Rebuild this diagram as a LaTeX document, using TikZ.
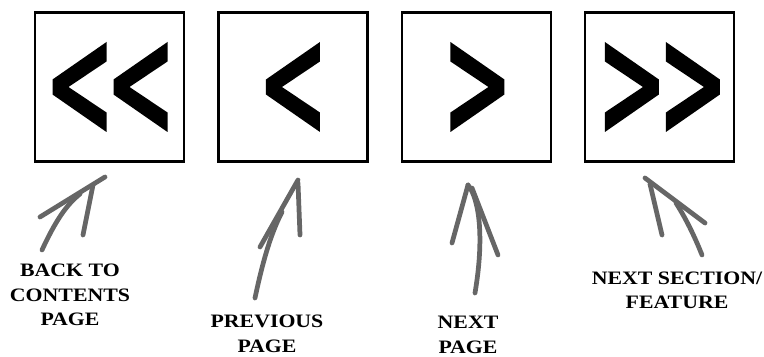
\documentclass[tikz,border=0pt]{standalone}
\usepackage{fontspec}
\usepackage{tikz}
\usetikzlibrary{positioning, calc}

\newfontfamily\capfont[FakeStretch=1.15]{Liberation Serif}

% chevrons drawn inside the buttons
\tikzset{
  lchev/.pic={\fill (27,-45) -- (-27,-7.5) -- (-27,7.5) -- (27,45) -- (27,25.5) -- (-11,0) -- (27,-25.5) -- cycle;},
  rchev/.pic={\fill (-27,-45) -- (27,-7.5) -- (27,7.5) -- (-27,45) -- (-27,25.5) -- (11,0) -- (-27,-25.5) -- cycle;}
}

\begin{document}
\begin{tikzpicture}[x=0.02cm, y=-0.02cm, node distance=3.67cm, on grid,
    navbox/.style={draw, line width=1.2pt, minimum size=2.98cm, inner sep=0pt},
    navtext/.style={font=\capfont\fontsize{10.8}{13.9}\selectfont\bfseries, align=center, inner sep=0pt},
    pencil/.style={draw=black!60, line width=2.7pt, line cap=round, line join=round}]
    \useasboundingbox (0,0) rectangle (764,357);

    % Buttons
    \node[navbox] (back) at (109.5,87) {};
    \node[navbox, right=of back] (prev) {};
    \node[navbox, right=of prev] (next) {};
    \node[navbox, right=of next] (section) {};

    \pic at ($(back)+(-30,0)$) {lchev};
    \pic at ($(back)+(31,0)$) {lchev};
    \pic at (prev) {lchev};
    \pic at ($(next)+(1,0)$) {rchev};
    \pic at ($(section)+(-28,0)$) {rchev};
    \pic at ($(section)+(33,0)$) {rchev};

    % Captions
    \node[navtext] (backtxt) at (70,295) {BACK TO\\CONTENTS\\PAGE};
    \node[navtext] (prevtxt) at (267,334) {PREVIOUS\\PAGE};
    \node[navtext] (nexttxt) at (468,335) {NEXT\\PAGE};
    \node[navtext] (sectxt) at (677,290.5) {NEXT SECTION/\\FEATURE};

    % Hand drawn arrows
    \coordinate (tip1) at (105,177);
    \coordinate (tip2) at (298,180);
    \coordinate (tip3) at (468,185);
    \coordinate (tip4) at (645,178);

    \draw[pencil] (40,217) -- (tip1);
    \draw[pencil] (42,250) .. controls (55,222) and (66,205) .. (80,194);
    \draw[pencil] (93,185) -- (83,235);

    \draw[pencil] (260,247) -- (tip2);
    \draw[pencil] (255,298) .. controls (262,265) and (270,235) .. (282,212);
    \draw[pencil] (298,183) -- (300,235);

    \draw[pencil] (452,243) -- (tip3);
    \draw[pencil] (tip3) .. controls (480,200) and (484,240) .. (475,293);
    \draw[pencil] (472,188) -- (498,255);

    \draw[pencil] (tip4) -- (705,223);
    \draw[pencil] (650,184) -- (662,235);
    \draw[pencil] (676,203) .. controls (688,222) and (696,240) .. (702,255);
\end{tikzpicture}
\end{document}
